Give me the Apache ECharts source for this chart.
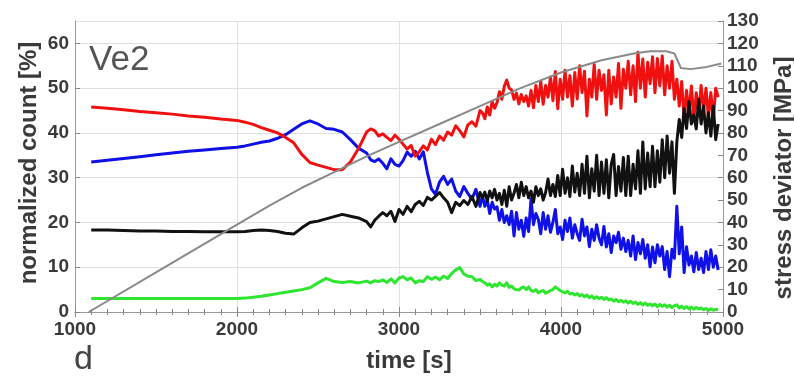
<!DOCTYPE html>
<html><head><meta charset="utf-8">
<script src="https://cdn.jsdelivr.net/npm/echarts@6/dist/echarts.min.js"></script>
<style>html,body{margin:0;padding:0;background:#fff}#c{width:794px;height:378px}</style>
</head><body><div id="c"></div>
<script>
// time [s] samples
const timeS = [1100,1200,1300,1400,1500,1600,1700,1800,1900,2000,2050,2100,2150,2200,2250,2300,2350,2400,2450,2500,2550,2600,2650,2700,2750,2800,
2825,2850,2875,2900,2925,2950,2975,3000,
3025,3050,3075,3100,3125,3150,3175,3200,3225,3250,
3275,3300,3325,3350,3375,3400,3425,3450,3475,3500,
3515,3530,3545,3560,3575,3590,3605,3620,3635,3650,
3665,3680,3695,3710,3725,3740,3755,3770,3785,3800,
3815,3830,3845,3860,3875,3890,3905,3920,3935,3950,
3965,3980,3995,4010,4025,4040,4055,4070,4085,4100,
4115,4130,4145,4160,4175,4190,4205,4220,4235,4250,
4265,4280,4295,4310,4325,4340,4355,4370,4385,4400,
4415,4430,4445,4460,4475,4490,4505,4520,4535,4550,
4565,4580,4595,4610,4625,4640,4655,4670,4685,4700,
4715,4730,4745,4760,4775,4790,4805,4820,4835,4850,
4865,4880,4895,4910,4925,4940,4955,4970];

const redCount = [45.8,45.5,45.2,44.8,44.5,44.2,43.8,43.5,43.1,42.8,42.4,41.9,41.2,40.6,40.0,39.0,37.8,35.2,33.4,32.8,32.3,31.8,31.8,33.5,36.5,40.2,
40.9,40.5,39.3,39.8,39.0,38.3,39.5,38.6,
37.5,36.4,37.2,34.8,35.8,37.1,36.2,38.6,37.4,39.3,
38.4,40.2,39.5,41.6,40.5,39.1,41.8,42.5,41.5,45.0,
44.5,43.2,45.8,44.0,47.0,45.5,46.8,49.2,47.5,50.4,
51.8,50.0,49.6,47.5,48.9,46.5,48.6,47.0,48.3,46.0,
49.5,45.6,50.6,47.0,51.5,46.4,50.6,48.0,52.5,47.2,
53.7,45.4,52.0,47.5,54.0,48.0,52.8,46.0,53.5,47.6,
55.0,49.0,53.8,43.8,52.0,48.0,55.3,47.5,54.0,49.5,
53.0,44.0,54.0,46.5,52.5,48.0,55.5,45.5,54.2,50.0,
56.0,48.5,55.0,47.0,58.0,50.0,56.5,48.0,55.8,51.0,
57.0,49.0,56.6,50.5,57.2,48.5,55.0,50.0,56.0,47.5,
52.0,46.0,51.5,43.0,49.5,44.5,50.5,43.0,49.0,44.0,
50.6,45.0,50.0,43.5,49.0,43.0,50.0,48.0];

const blueCount = [33.5,33.9,34.3,34.7,35.1,35.5,35.9,36.2,36.5,36.8,37.1,37.5,37.9,38.2,38.8,39.6,40.8,42.0,42.7,42.0,41.0,40.8,40.2,38.5,36.6,35.5,
34.0,33.6,34.2,33.2,32.0,34.2,33.0,32.6,
33.8,35.7,34.8,35.9,34.2,35.8,31.2,27.5,26.3,29.0,
30.3,28.5,29.7,27.0,25.8,28.0,26.5,25.2,27.4,23.6,
26.0,23.6,25.0,22.0,24.5,23.0,23.5,20.5,22.9,20.0,
21.5,19.5,22.5,17.0,22.2,18.5,20.5,16.9,21.0,18.0,
25.2,19.5,22.0,20.7,17.5,22.2,18.5,21.5,17.8,20.0,
22.9,17.5,19.0,16.2,20.5,18.0,21.0,16.5,19.5,17.5,
16.0,20.7,17.0,19.0,14.6,18.5,16.0,19.5,16.5,15.0,
19.1,14.5,17.5,13.3,17.0,15.5,17.8,14.0,16.5,13.5,
16.0,12.5,17.0,11.7,15.5,13.0,16.2,12.0,15.0,10.1,
14.5,11.0,15.0,12.5,14.6,9.5,13.5,7.9,14.0,12.0,
23.6,13.0,19.0,8.8,14.6,10.5,12.5,9.0,13.3,9.5,
12.0,8.8,13.5,9.5,13.9,10.0,12.5,9.4];

const blackCount = [18.3,18.3,18.2,18.1,18.1,18.0,18.0,17.9,17.9,17.9,18.0,18.2,18.3,18.2,18.0,17.6,17.4,18.8,20.0,20.3,20.8,21.3,21.8,21.4,21.0,20.2,
19.0,20.5,21.4,22.2,21.5,22.5,20.2,22.9,
21.8,23.6,22.4,24.0,24.7,23.8,25.6,25.0,25.8,26.7,
25.5,24.5,22.2,24.5,23.8,24.9,24.0,25.8,23.6,26.7,
25.5,26.8,24.8,27.0,25.5,27.4,25.0,26.5,24.0,27.2,
23.6,28.0,25.0,26.5,28.5,25.5,29.0,26.0,28.0,25.5,
27.0,24.5,28.0,26.0,27.5,25.0,26.7,29.7,26.0,28.5,
25.8,30.5,26.0,31.9,26.5,30.0,25.8,32.6,26.8,31.0,
26.0,33.0,26.5,34.8,25.5,32.0,27.0,35.0,26.0,33.5,
26.5,34.0,25.5,33.0,35.2,26.0,32.5,27.0,34.5,26.0,
34.8,26.0,33.0,27.5,36.0,26.5,38.0,27.5,35.5,28.0,
37.0,28.0,36.0,29.0,38.5,30.0,39.3,31.0,38.0,26.5,
38.0,43.0,39.0,45.4,41.0,47.0,42.0,44.0,40.9,47.5,
42.0,46.0,40.0,44.5,39.3,46.0,38.5,42.0];

const greenCount = [3.0,3.0,3.0,3.0,3.0,3.0,3.0,3.0,3.0,3.0,3.1,3.3,3.5,3.8,4.1,4.4,4.7,5.0,5.4,6.5,7.5,6.8,6.6,6.8,6.5,6.9,
6.5,7.0,6.8,7.2,6.6,7.4,6.5,7.6,
7.9,7.2,7.6,6.5,7.0,6.8,7.9,7.3,7.8,7.2,
8.0,7.5,8.6,9.4,9.9,8.5,8.0,7.9,7.0,7.3,
6.8,6.5,6.0,6.3,5.6,6.2,5.8,6.5,6.0,5.8,
6.5,5.5,5.8,5.2,5.0,4.9,5.4,5.6,5.0,5.6,
4.8,4.6,5.0,4.3,4.6,4.8,4.2,4.5,4.8,5.0,
5.6,5.2,4.8,4.5,4.3,4.6,4.0,4.2,3.8,4.1,
3.6,3.9,3.4,3.8,3.2,3.6,3.0,3.4,3.0,3.3,
2.8,3.2,2.7,2.9,2.4,2.8,2.3,2.6,2.2,2.5,
2.0,2.4,1.9,2.2,1.7,2.1,1.6,2.0,1.5,1.8,
1.4,1.8,1.2,1.7,1.3,1.6,1.1,1.5,1.0,1.4,
1.6,0.9,1.3,0.8,1.2,0.7,1.1,0.6,1.0,0.7,
0.9,0.5,0.8,0.4,0.7,0.4,0.6,0.5];

// stress deviator [MPa]
const stressTime = [1085,1500,2000,2200,2400,2600,2800,3000,3250,3500,3750,4000,4250,4450,4550,4650,4700,4740,4800,4900,4990];
const stressMPa  = [0,17.7,39,47.5,55.5,62.5,69.5,76,84,92,100,107,112.5,115.5,116.5,116.5,115.5,109,108.5,109.5,111];

const xTicks = [1000,2000,3000,4000,5000];

const pair = (t, v) => t.map((x, i) => [x, v[i]]);
const FONT = '"Liberation Sans", Arial, sans-serif';
const lbl = {color:'#3a3a3a', fontSize:19, fontWeight:'bold', fontFamily:FONT};
const axisLineC = '#9a9a9a';
const gridC = '#e0e0e0';

const chart = echarts.init(document.getElementById('c'), null, {renderer:'canvas'});
const lineS = (name, data, color, w, yi, z) => ({
  name, type:'line', data, yAxisIndex: yi || 0, showSymbol:false, symbol:'none',
  lineStyle:{color, width:w, join:'round'}, itemStyle:{color}, animation:false, z: z || 3
});

chart.setOption({
  animation:false,
  backgroundColor:'#fff',
  grid:{left:75, right:71, top:21, bottom:66, containLabel:false, outerBoundsMode:'none'},
  xAxis:[{
    type:'value', min:xTicks[0], max:xTicks[xTicks.length-1], interval:1000,
    axisLine:{show:true, lineStyle:{color:axisLineC, width:1}},
    axisTick:{show:true, inside:true, length:5, lineStyle:{color:'#888'}},
    minorTick:{show:true, splitNumber:10, length:3, lineStyle:{color:'#888'}},
    axisLabel:Object.assign({margin:8, hideOverlap:false, formatter:(v) => String(v)}, lbl),
    splitLine:{show:true, lineStyle:{color:gridC, width:1}}
  },{
    type:'value', position:'top', min:xTicks[0], max:xTicks[xTicks.length-1], interval:1000,
    axisLine:{show:true, lineStyle:{color:axisLineC, width:1}},
    axisTick:{show:true, inside:true, length:5, lineStyle:{color:'#888'}},
    minorTick:{show:true, splitNumber:10, length:3, lineStyle:{color:'#888'}},
    axisLabel:{show:false}, splitLine:{show:false}
  }],
  yAxis:[{
    type:'value', position:'left', min:0, max:65, interval:10,
    axisLine:{show:true, lineStyle:{color:axisLineC, width:1}},
    axisTick:{show:true, inside:true, length:5, lineStyle:{color:'#888'}},
    axisLabel:Object.assign({margin:6, showMaxLabel:false, hideOverlap:false}, lbl),
    splitLine:{show:true, lineStyle:{color:gridC, width:1}}
  },{
    type:'value', position:'right', min:0, max:130, interval:10,
    axisLine:{show:true, lineStyle:{color:axisLineC, width:1}},
    axisTick:{show:true, inside:true, length:5, lineStyle:{color:'#888'}},
    axisLabel:Object.assign({margin:4, hideOverlap:false}, lbl),
    splitLine:{show:false}
  }],
  series:[
    lineS('green', pair(timeS, greenCount), '#2ee62e', 3, 0, 3),
    lineS('blue', pair(timeS, blueCount), '#1010e8', 3, 0, 4),
    lineS('red', pair(timeS, redCount), '#f01010', 3, 0, 5),
    lineS('black', pair(timeS, blackCount), '#111111', 3, 0, 6),
    lineS('stress', pair(stressTime, stressMPa), '#8a8a8a', 2, 1, 7)
  ],
  graphic:[
    {type:'text', left:89, top:43, z:10, style:{text:'Ve2', font:'normal 35px ' + FONT, fill:'#555'}},
    {type:'text', left:74, top:343, z:10, style:{text:'d', font:'normal 34px ' + FONT, fill:'#444'}},
    {type:'text', x:409, y:361, z:10, style:{text:'time [s]', font:'bold 24px ' + FONT, fill:'#3a3a3a', align:'center', verticalAlign:'middle', textAlign:'center', textVerticalAlign:'middle'}},
    {type:'text', x:29, y:163, rotation:Math.PI/2, z:10, style:{text:'normalized count [%]', font:'bold 24px ' + FONT, fill:'#3a3a3a', align:'center', verticalAlign:'middle', textAlign:'center', textVerticalAlign:'middle'}},
    {type:'text', x:784, y:178, rotation:Math.PI/2, z:10, style:{text:'stress deviator [MPa]', font:'bold 24px ' + FONT, fill:'#3a3a3a', align:'center', verticalAlign:'middle', textAlign:'center', textVerticalAlign:'middle'}}
  ]
});
</script>
</body></html>
